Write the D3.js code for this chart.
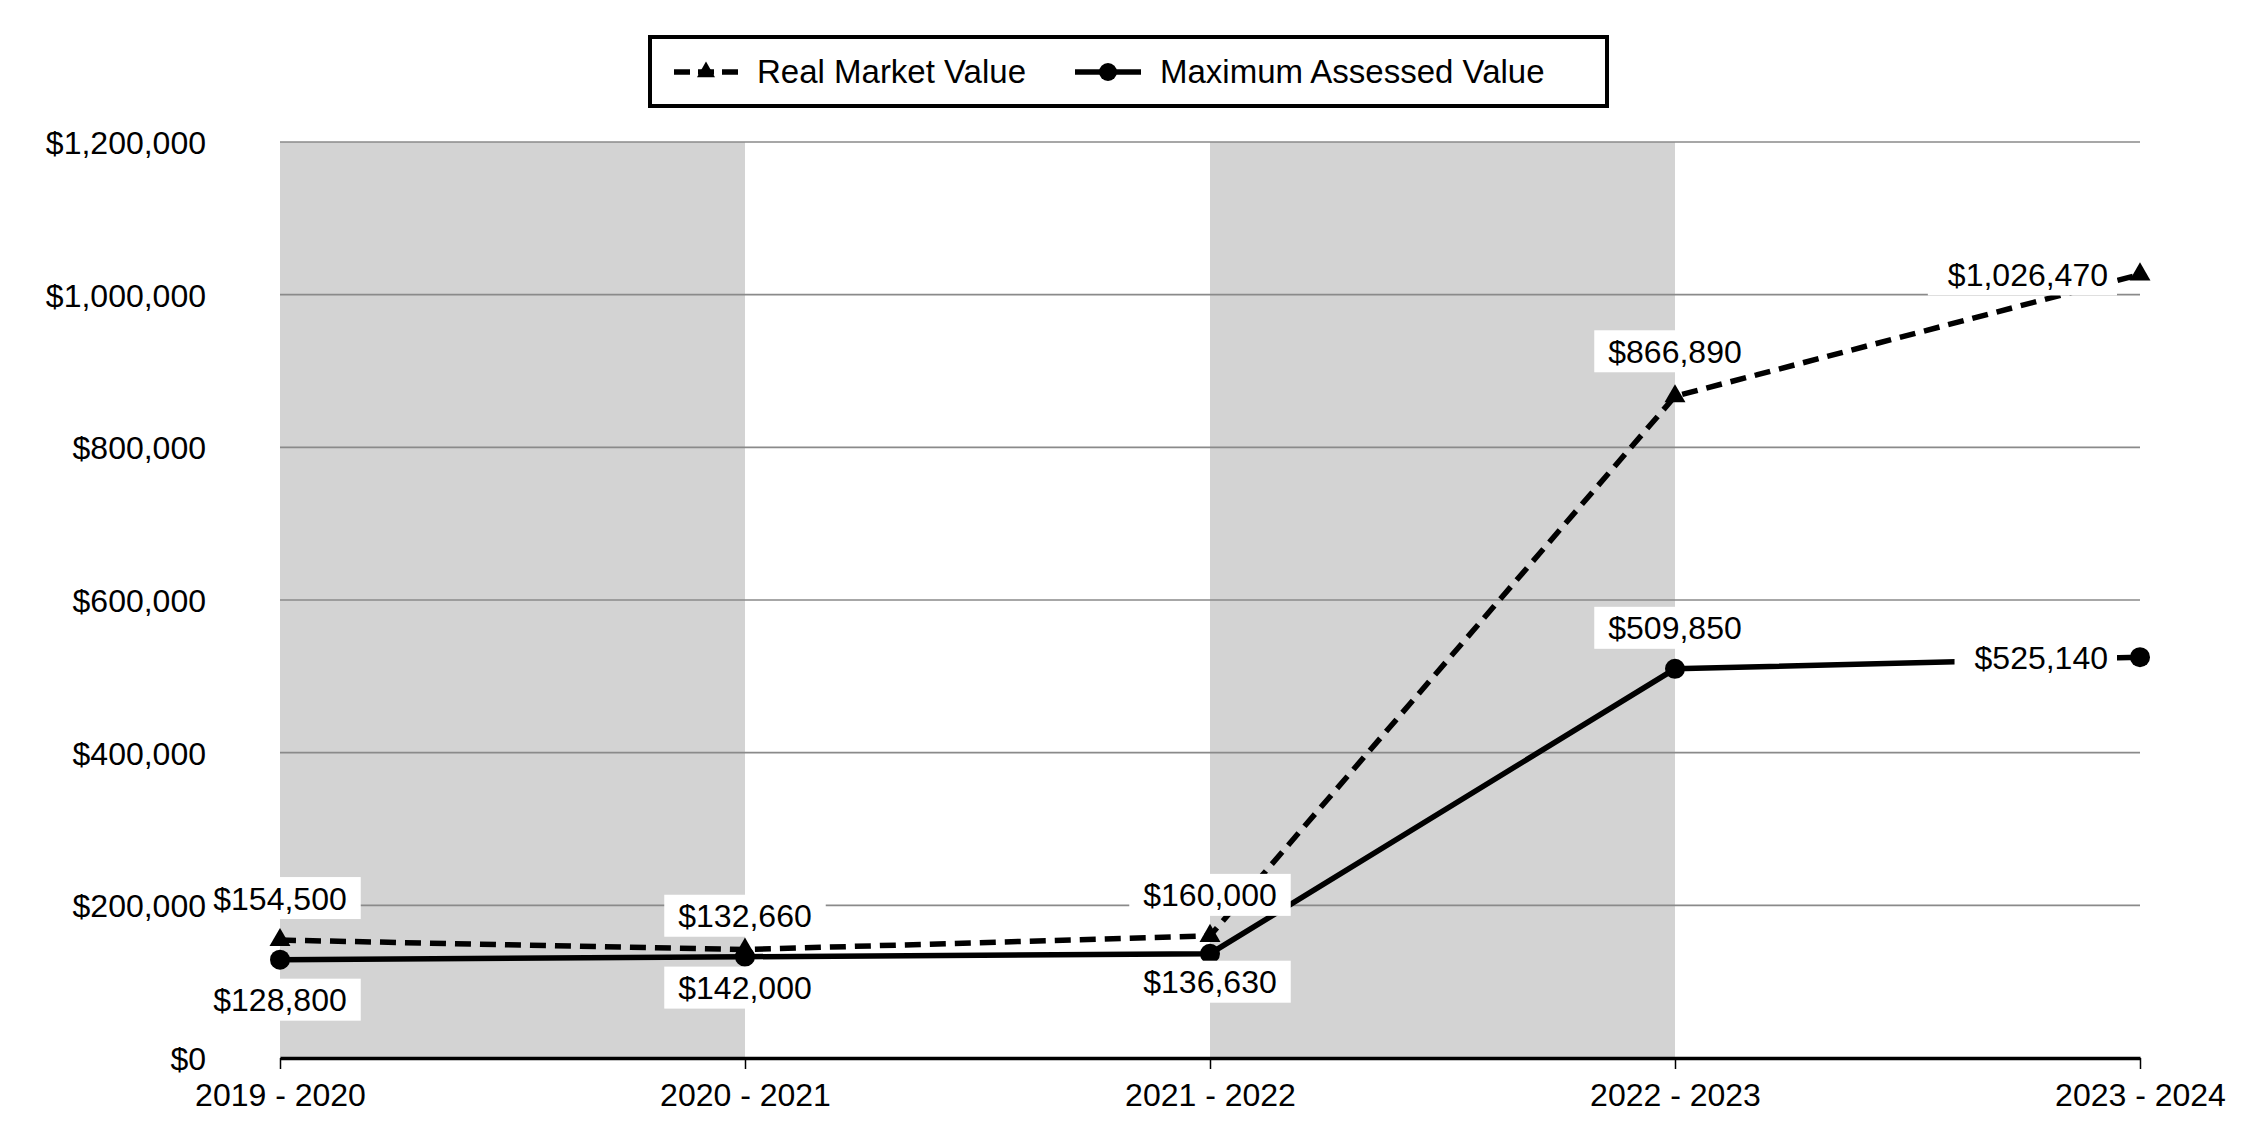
<!DOCTYPE html>
<html>
<head>
<meta charset="utf-8">
<script src="https://cdn.jsdelivr.net/npm/d3@7"></script>
<style>
  html, body { margin: 0; padding: 0; background: #fff; }
  svg { display: block; font-family: "Liberation Sans", Arial, sans-serif; }
</style>
</head>
<body>
<div id="chart"></div>
<script>
// chart data
const years = ["2019 - 2020", "2020 - 2021", "2021 - 2022", "2022 - 2023", "2023 - 2024"];
const realMarketValue = [154500, 142000, 160000, 866890, 1026470];
const maxAssessedValue = [128800, 132660, 136630, 509850, 525140];
const yTicks = [0, 200000, 400000, 600000, 800000, 1000000, 1200000];
const seriesNames = ["Real Market Value", "Maximum Assessed Value"];

const w = 2250;
const h = 1140;
const plotL = 280, plotR = 2140, plotT = 142, plotB = 1058;

// where each value label sits relative to its point
const rmvLabelPlace = [
  {dy: -42}, {dy: 38}, {dy: -41}, {dy: -45}, {side: "left"}
];
const mavLabelPlace = [
  {dy: 40}, {dy: -41}, {dy: 28}, {dy: -41}, {side: "left"}
];

const fmt = d3.format("$,");

const xScale = d3.scalePoint()
  .domain(years)
  .range([plotL, plotR]);
const yScale = d3.scaleLinear()
  .domain([0, 1200000])
  .range([plotB, plotT]);

const svg = d3.select("#chart")
  .append("svg")
  .attr("width", w)
  .attr("height", h);

// shaded bands between alternate years
const bandIdx = [0, 2];
svg.selectAll("rect.band")
  .data(bandIdx)
  .enter()
  .append("rect")
  .attr("class", "band")
  .attr("x", i => xScale(years[i]))
  .attr("y", plotT)
  .attr("width", i => xScale(years[i + 1]) - xScale(years[i]))
  .attr("height", plotB - plotT)
  .attr("fill", "#d3d3d3");

// gridlines
svg.selectAll("line.grid")
  .data(yTicks.filter(d => d > 0))
  .enter()
  .append("line")
  .attr("class", "grid")
  .attr("x1", plotL)
  .attr("x2", plotR)
  .attr("y1", d => yScale(d))
  .attr("y2", d => yScale(d))
  .attr("stroke", "#8a8a8a")
  .attr("stroke-width", 1.6);

// y axis labels
const yAxis = d3.axisLeft(yScale)
  .tickValues(yTicks)
  .tickFormat(fmt)
  .tickSize(0)
  .tickPadding(74);
const yg = svg.append("g")
  .attr("transform", `translate(${plotL},0)`)
  .call(yAxis);
yg.select(".domain").remove();
yg.selectAll("text")
  .attr("font-size", "32px")
  .attr("font-family", "Liberation Sans, Arial, sans-serif")
  .attr("fill", "#000")
  .attr("dy", "0.36em");

// x axis
const xAxis = d3.axisBottom(xScale)
  .tickSize(11)
  .tickPadding(14)
  .tickSizeOuter(0);
const xg = svg.append("g")
  .attr("transform", `translate(0,${plotB})`)
  .call(xAxis);
xg.select(".domain")
  .attr("stroke", "#000")
  .attr("stroke-width", 3.5);
xg.selectAll(".tick line")
  .attr("stroke", "#000")
  .attr("stroke-width", 1.5);
xg.selectAll("text")
  .attr("font-size", "32px")
  .attr("font-family", "Liberation Sans, Arial, sans-serif")
  .attr("fill", "#000");

// lines
const line = d3.line()
  .x((d, i) => xScale(years[i]))
  .y(d => yScale(d));

svg.append("path")
  .datum(maxAssessedValue)
  .attr("d", line)
  .attr("fill", "none")
  .attr("stroke", "#000")
  .attr("stroke-width", 5.5);

svg.append("path")
  .datum(realMarketValue)
  .attr("d", line)
  .attr("fill", "none")
  .attr("stroke", "#000")
  .attr("stroke-width", 5.5)
  .attr("stroke-dasharray", "16,9");

// markers
const tri = d3.symbol().type(d3.symbolTriangle).size(190);
svg.selectAll("path.tri")
  .data(realMarketValue)
  .enter()
  .append("path")
  .attr("class", "tri")
  .attr("d", tri)
  .attr("transform", (d, i) => `translate(${xScale(years[i])},${yScale(d)})`)
  .attr("fill", "#000");

svg.selectAll("circle.dot")
  .data(maxAssessedValue)
  .enter()
  .append("circle")
  .attr("class", "dot")
  .attr("cx", (d, i) => xScale(years[i]))
  .attr("cy", d => yScale(d))
  .attr("r", 10)
  .attr("fill", "#000");

// value labels with white boxes
function addLabels(values, places) {
  values.forEach((v, i) => {
    const px = xScale(years[i]);
    const py = yScale(v);
    const p = places[i];
    const g = svg.append("g");
    const box = g.append("rect").attr("fill", "#fff");
    const t = g.append("text")
      .text(fmt(v))
      .attr("font-size", "32px")
      .attr("fill", "#000");
    let cy;
    if (p.side === "left") {
      cy = py;
      t.attr("x", px - 32).attr("text-anchor", "end");
    } else {
      cy = py + p.dy;
      t.attr("x", px).attr("text-anchor", "middle");
    }
    t.attr("y", cy + 11.5);
    const bb = t.node().getBBox();
    const padL = p.side === "left" ? 20 : 14;
    const padR = p.side === "left" ? 9 : 14;
    box.attr("x", bb.x - padL)
      .attr("y", cy - 21)
      .attr("width", bb.width + padL + padR)
      .attr("height", 42);
  });
}
addLabels(realMarketValue, rmvLabelPlace);
addLabels(maxAssessedValue, mavLabelPlace);

// keep the y tick labels on top of the label boxes
yg.raise();

// legend
const lg = svg.append("g");
lg.append("rect")
  .attr("x", 650)
  .attr("y", 37)
  .attr("width", 957)
  .attr("height", 69)
  .attr("fill", "#fff")
  .attr("stroke", "#000")
  .attr("stroke-width", 4);

const ly = 72;
// item 1: dashed with triangle
lg.append("line")
  .attr("x1", 674).attr("x2", 738)
  .attr("y1", ly).attr("y2", ly)
  .attr("stroke", "#000")
  .attr("stroke-width", 5.5)
  .attr("stroke-dasharray", "16,8");
lg.append("path")
  .attr("d", d3.symbol().type(d3.symbolTriangle).size(140))
  .attr("transform", `translate(706,${ly})`)
  .attr("fill", "#000");
lg.append("text")
  .attr("x", 757)
  .attr("y", 83)
  .attr("font-size", "33px")
  .attr("fill", "#000")
  .text(seriesNames[0]);

// item 2: solid with circle
lg.append("line")
  .attr("x1", 1075).attr("x2", 1141)
  .attr("y1", ly).attr("y2", ly)
  .attr("stroke", "#000")
  .attr("stroke-width", 5.5);
lg.append("circle")
  .attr("cx", 1108)
  .attr("cy", ly)
  .attr("r", 9)
  .attr("fill", "#000");
lg.append("text")
  .attr("x", 1160)
  .attr("y", 83)
  .attr("font-size", "33px")
  .attr("fill", "#000")
  .text(seriesNames[1]);
</script>
</body>
</html>
